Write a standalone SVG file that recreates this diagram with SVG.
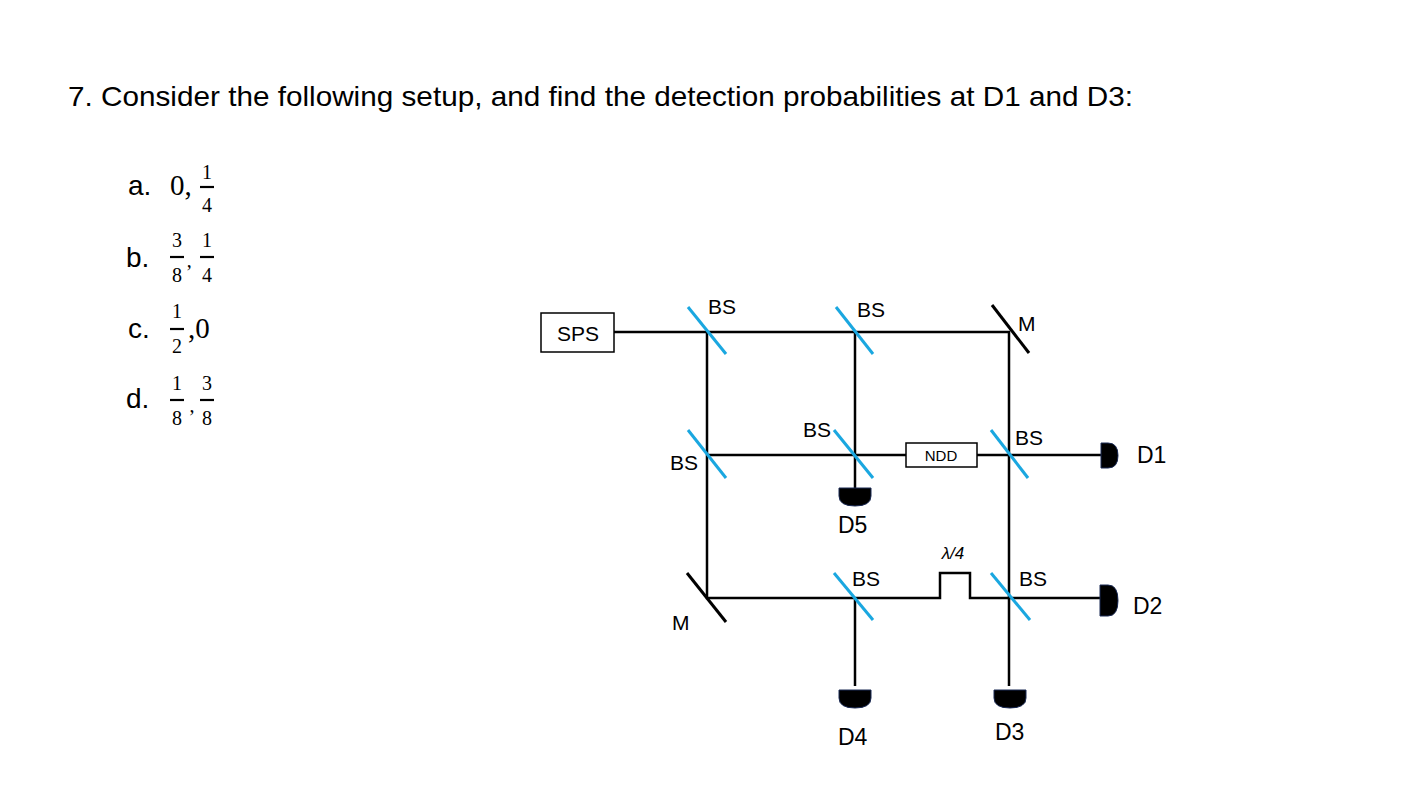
<svg xmlns="http://www.w3.org/2000/svg" width="1425" height="807" viewBox="0 0 1425 807">
<style>
text{font-family:"Liberation Sans",Arial,sans-serif;fill:#000}
.t{font-size:28px}
.m{font-family:"Liberation Serif","DejaVu Serif",serif;font-size:29px}
.f{font-family:"Liberation Serif","DejaVu Serif",serif;font-size:20px;text-anchor:middle}
.l{font-size:21px}
.d{font-size:23px}
.beam{stroke:#000;stroke-width:2.5;fill:none}
.bs{stroke:#1aa7e0;stroke-width:3}
.mir{stroke:#000;stroke-width:3}
.det{fill:#000;stroke:#1a2a55;stroke-width:1}
.bar{stroke:#000;stroke-width:2.2}
</style>
<rect width="1425" height="807" fill="#fff"/>
<text class="t" x="68" y="106" textLength="1065" lengthAdjust="spacingAndGlyphs">7. Consider the following setup, and find the detection probabilities at D1 and D3:</text>
<g id="options">
<text class="t" x="128" y="195">a.</text><text class="m" x="170" y="195">0,</text>
<text class="f" x="207" y="179">1</text><line class="bar" x1="200" y1="187" x2="214" y2="187"/><text class="f" x="207" y="212">4</text>
<text class="t" x="126" y="267">b.</text>
<text class="f" x="177" y="247">3</text><line class="bar" x1="170" y1="257" x2="184" y2="257"/><text class="f" x="177" y="282">8</text>
<text class="f" x="189" y="279">’</text>
<text class="f" x="207" y="247">1</text><line class="bar" x1="200" y1="257" x2="214" y2="257"/><text class="f" x="207" y="282">4</text>
<text class="t" x="128" y="338">c.</text>
<text class="f" x="177" y="318">1</text><line class="bar" x1="170" y1="329" x2="184" y2="329"/><text class="f" x="177" y="353">2</text>
<text class="m" x="188" y="338">,0</text>
<text class="t" x="126" y="408">d.</text>
<text class="f" x="177" y="390">1</text><line class="bar" x1="170" y1="400" x2="184" y2="400"/><text class="f" x="177" y="425">8</text>
<text class="f" x="192" y="412">,</text>
<text class="f" x="207" y="390">3</text><line class="bar" x1="200" y1="400" x2="214" y2="400"/><text class="f" x="207" y="425">8</text>
</g>
<g id="connectors">
<path class="beam" d="M614 332 H1009 V686"/>
<path class="beam" d="M707 332 V598 H940 V573 H970 V598 H1100"/>
<path class="beam" d="M855 332 V488"/>
<path class="beam" d="M707 455 H906 M977 455 H1101"/>
<path class="beam" d="M855 598 V686"/>
</g>
<g id="SPS"><rect x="541" y="313" width="73" height="39" fill="#fff" stroke="#000" stroke-width="1.5"/><text class="l" x="578" y="341" text-anchor="middle">SPS</text></g>
<g id="BS1"><line class="bs" x1="688" y1="307" x2="726" y2="354"/><text class="l" x="708" y="314">BS</text></g>
<g id="BS2"><line class="bs" x1="836" y1="307" x2="873" y2="354"/><text class="l" x="857" y="317">BS</text></g>
<g id="M1"><line class="mir" x1="992" y1="305" x2="1029" y2="353"/><text class="l" x="1018" y="331">M</text></g>
<g id="BS3"><line class="bs" x1="688" y1="430" x2="726" y2="478"/><text class="l" x="670" y="470">BS</text></g>
<g id="BS4"><line class="bs" x1="834" y1="430" x2="873" y2="478"/><text class="l" x="803" y="437">BS</text></g>
<g id="NDD"><rect x="906" y="443" width="71" height="24" fill="#fff" stroke="#000" stroke-width="1.5"/><text x="941" y="461" font-size="15" text-anchor="middle">NDD</text></g>
<g id="BS5"><line class="bs" x1="991" y1="430" x2="1028" y2="478"/><text class="l" x="1015" y="445">BS</text></g>
<g id="D5"><path class="det" d="M839 488 H871 V496 Q871 506 855 506 Q839 506 839 496 Z"/><text class="d" x="838" y="533">D5</text></g>
<g id="D1"><path class="det" d="M1101 443 V468 H1108 Q1118 468 1118 455.5 Q1118 443 1108 443 Z"/><text class="d" x="1137" y="463">D1</text></g>
<g id="M2"><line class="mir" x1="687" y1="573" x2="726" y2="622"/><text class="l" x="672" y="630">M</text></g>
<g id="BS6"><line class="bs" x1="834" y1="573" x2="873" y2="620"/><text class="l" x="852" y="586">BS</text></g>
<g id="QWP"><text x="953" y="559" font-family="Liberation Serif,serif" font-size="17" text-anchor="middle" font-style="italic">λ/4</text></g>
<g id="BS7"><line class="bs" x1="991" y1="573" x2="1030" y2="620"/><text class="l" x="1019" y="586">BS</text></g>
<g id="D2"><path class="det" d="M1100 585 V616 H1108 Q1118 616 1118 600.5 Q1118 585 1108 585 Z"/><text class="d" x="1133" y="614">D2</text></g>
<g id="D4"><path class="det" d="M839 690 H871 V698 Q871 708 855 708 Q839 708 839 698 Z"/><text class="d" x="838" y="745">D4</text></g>
<g id="D3"><path class="det" d="M994 690 H1026 V698 Q1026 708 1010 708 Q994 708 994 698 Z"/><text class="d" x="995" y="740">D3</text></g>
</svg>
